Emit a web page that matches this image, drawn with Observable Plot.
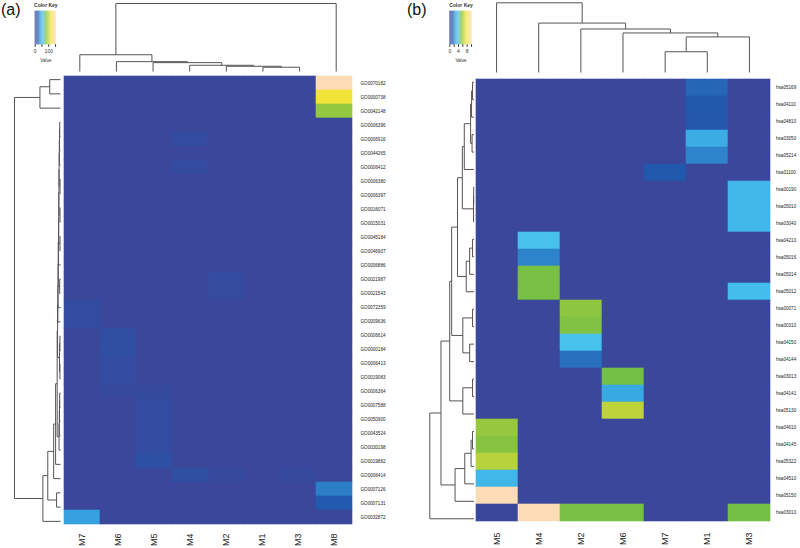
<!DOCTYPE html>
<html><head><meta charset="utf-8">
<script src="https://cdn.jsdelivr.net/npm/d3@7"></script>
<script src="https://cdn.jsdelivr.net/npm/@observablehq/plot@0.6"></script>
<style>
body{margin:0;background:#fff;}
#fig{position:relative;width:800px;height:548px;overflow:hidden;font-family:"Liberation Sans",Arial,sans-serif;}
.plabel{position:absolute;font-size:16px;line-height:1;color:#111;}
</style></head><body><div id="fig"></div>
<script>
// ---------- Panel (a): GO terms ----------
const colsA = ["M7","M6","M5","M4","M2","M1","M3","M8"];
const rowsA = ["GO0070182","GO0000738","GO0042148","GO0006396","GO0006916","GO0044265","GO0006412","GO0006380","GO0006397","GO0016071","GO0015031","GO0045184","GO0046907","GO0006886","GO0021987","GO0021543","GO0072359","GO0009636","GO0006614","GO0000184","GO0006413","GO0019083","GO0006364","GO0007588","GO0050900","GO0043524","GO0030198","GO0019882","GO0006414","GO0007126","GO0007131","GO0032872"];
const valuesA = [
 [0,0,0,0,0,0,0,157],[0,0,0,0,0,0,0,118],[0,0,0,0,0,0,0,91],[0,0,0,0,0,0,0,0],
 [0,0,0,6,0,0,0,0],[0,0,0,0,0,0,0,0],[0,0,0,6,0,0,0,0],[0,0,0,0,0,0,0,0],
 [0,0,0,0,0,0,0,0],[0,0,0,0,0,0,0,0],[0,0,0,0,0,0,0,0],[0,0,0,0,0,0,0,0],
 [0,0,0,0,0,0,0,0],[0,0,0,0,0,0,0,0],[0,0,0,0,6,0,0,0],[0,0,0,0,5,0,0,0],
 [8,0,0,0,0,0,0,0],[7,0,0,0,0,0,0,0],[0,9,0,0,0,0,0,0],[0,10,0,0,0,0,0,0],
 [0,8,0,0,0,0,0,0],[0,6,0,0,0,0,0,0],[0,3,4,0,0,0,0,0],[0,0,7,0,0,0,0,0],
 [0,0,7,0,0,0,0,0],[0,0,7,0,0,0,0,0],[0,0,8,0,0,0,0,0],[0,0,13,0,0,0,0,0],
 [0,0,0,10,4,0,3,0],[0,0,0,0,0,0,0,35],[0,0,0,0,0,0,0,24],[45,0,0,0,0,0,0,0]];
const maxA = 157;
const keyTicksA = [0,50,100,150];
const keyLabelsA = [0,100];
// hclust-style merges: negative = leaf (1-based, display order), positive = earlier merge; third = height
const colMergesA = [[-6,-7,4.3],[-5,1,5.3],[-4,2,6.3],[-3,3,9],[-2,4,10],[-1,5,17],[6,-8,69]];
const rowMergesA = [[-4,-5,0.8],[1,-6,1.0],[2,-7,1.2],[-8,-9,0.5],[3,4,1.4],[-10,-11,0.5],[5,6,1.6],[-12,-13,0.5],[7,8,1.8],[9,-14,2.0],[-15,-16,0.8],[10,11,2.3],[12,-17,2.5],[13,-18,2.7],[-19,-20,0.6],[-21,-22,0.6],[15,16,1.0],[14,17,3.0],[-23,-24,0.8],[19,-25,1.0],[20,-26,1.2],[21,-27,1.5],[18,22,3.4],[23,-28,5.0],[24,-29,7.0],[-30,-31,4.0],[25,26,13],[27,-32,18],[-1,-2,11],[29,-3,21],[30,28,47]];

// ---------- Panel (b): KEGG pathways ----------
const colsB = ["M5","M4","M2","M6","M7","M1","M3"];
const rowsB = ["hsa05169","hsa04110","hsa04810","hsa03050","hsa05214","hsa01100","hsa00190","hsa05010","hsa03040","hsa04210","hsa05016","hsa05014","hsa05012","hsa00071","hsa00310","hsa04150","hsa04144","hsa03013","hsa04141","hsa05130","hsa04610","hsa04145","hsa05322","hsa04510","hsa05150","hsa03010"];
const valuesB = [
 [0,0,0,0,0,1.8,0],[0,0,0,0,0,1.5,0],[0,0,0,0,0,1.4,0],[0,0,0,0,0,3.3,0],
 [0,0,0,0,0,2.4,0],[0,0,0,0,1.5,0,0],[0,0,0,0,0,0,3.7],[0,0,0,0,0,0,3.7],
 [0,0,0,0,0,0,3.7],[0,4.1,0,0,0,0,0],[0,2.4,0,0,0,0,0],[0,5.3,0,0,0,0,0],
 [0,5.3,0,0,0,0,3.9],[0,0,5.8,0,0,0,0],[0,0,5.5,0,0,0,0],[0,0,4.1,0,0,0,0],
 [0,0,2.0,0,0,0,0],[0,0,0,5.2,0,0,0],[0,0,0,3.2,0,0,0],[0,0,0,6.8,0,0,0],
 [6.0,0,0,0,0,0,0],[5.6,0,0,0,0,0,0],[6.7,0,0,0,0,0,0],[3.7,0,0,0,0,0,0],
 [10.3,0,0,0,0,0,0],[0,10.3,5.3,5.3,0,0,5.2]];
const maxB = 10.3;
const keyTicksB = [0,2,4,6,8,10];
const keyLabelsB = [0,4,8];
const colMergesB = [[-5,-6,21],[1,-7,36],[-4,2,40],[-3,3,44],[-2,4,50],[-1,5,70.5]];
const rowMergesB = [[-1,-2,1.5],[1,-3,2.5],[-4,-5,2],[2,3,3.5],[4,-6,10],[-7,-8,0.3],[6,-9,0.5],[5,7,12],[-10,-11,1.5],[9,-12,4.5],[10,-13,8],[8,11,17],[-14,-15,1.5],[-16,-17,4.5],[13,14,11.5],[12,15,23],[-18,-19,1.5],[17,-20,11.5],[16,18,25],[-21,-22,1.5],[20,-23,3],[21,-24,9.5],[22,-25,19.5],[19,23,34],[24,-26,45.5]];

// ---------- colour ramp ----------
const rampStops = [0,0.15,0.3,0.4,0.5,0.62,0.75,1];
const rampColors = ["#3a479a","#2159ad","#38a6e2","#46c3ec","#72be45","#a5cd3b","#f1e337","#fcdcb6"];

const FONT = "Liberation Sans, Arial, sans-serif";
const fig = document.getElementById("fig");
function colorScale(max){ return {type:"linear", domain: rampStops.map(s=>s*max), range: rampColors, interpolate:"rgb", clamp:true}; }
function place(svg, left, top){
  svg.style.position="absolute"; svg.style.left=left+"px"; svg.style.top=top+"px";
  svg.style.maxWidth="none"; svg.style.overflow="visible"; svg.style.background="transparent";
  fig.appendChild(svg);
}
function segments(merges){
  const nodes=[], segs=[];
  const get = r => r<0 ? {pos:-r-1, h:0} : nodes[r-1];
  for(const [a,b,h] of merges){
    const A=get(a), B=get(b);
    segs.push({p1:A.pos,h1:A.h,p2:A.pos,h2:h});
    segs.push({p1:B.pos,h1:B.h,p2:B.pos,h2:h});
    segs.push({p1:A.pos,h1:h,p2:B.pos,h2:h});
    nodes.push({pos:(A.pos+B.pos)/2, h});
  }
  return segs;
}
const baseStyle = {background:"transparent", fontFamily:FONT, overflow:"visible"};

function heatmap(cols, rows, values, max, w, h, mr, fs){
  const cells = rows.flatMap((r,i)=>cols.map((c,j)=>({row:r,col:c,value:values[i][j]})));
  return Plot.plot({
    width:w+mr, height:h+26, marginLeft:0, marginTop:0, marginRight:mr, marginBottom:26,
    x:{domain:cols, padding:0}, y:{domain:rows, padding:0},
    color: colorScale(max), style: baseStyle,
    marks:[
      Plot.cell(cells,{x:"col",y:"row",fill:"value",inset:-0.3}),
      Plot.axisY({anchor:"right",tickSize:0,tickPadding:fs.pad,fontSize:fs.row,label:null,color:"#222"}),
      Plot.axisX({anchor:"bottom",tickSize:0,tickPadding:5,tickRotate:-90,fontSize:9,label:null,color:"#222"})
    ]
  });
}
function colDendro(merges, n, w, h, top, H){
  return Plot.plot({width:w,height:h,marginLeft:0,marginRight:0,marginTop:top,marginBottom:0,
    x:{domain:[-0.5,n-0.5],axis:null}, y:{domain:[0,H],axis:null}, style:baseStyle,
    marks:[Plot.link(segments(merges),{x1:"p1",x2:"p2",y1:"h1",y2:"h2",stroke:"#555",strokeWidth:1})]});
}
function rowDendro(merges, n, w, h, left, H){
  return Plot.plot({width:w,height:h,marginLeft:left,marginRight:0,marginTop:0,marginBottom:0,
    x:{domain:[H,0],axis:null}, y:{domain:[-0.5,n-0.5],reverse:true,axis:null}, style:baseStyle,
    marks:[Plot.link(segments(merges),{x1:"h1",x2:"h2",y1:"p1",y2:"p2",stroke:"#555",strokeWidth:1})]});
}
function colorKey(max, ticks, labels, ml, kw, mr){
  const N=80, step=max/N, steps=d3.range(N).map(i=>i*step);
  return Plot.plot({width:ml+kw+mr,height:66,marginLeft:ml,marginRight:mr,marginTop:10.7,marginBottom:21.7,
    x:{domain:[0,max],axis:null}, color: colorScale(max), style:baseStyle,
    marks:[
      Plot.barX(steps,{x1:d=>d,x2:d=>d+step*1.05,fill:d=>d+step/2}),
      Plot.axisX({ticks:ticks,tickFormat:d=>labels.includes(d)?String(d):"",tickSize:2.5,tickPadding:2,fontSize:5,label:null,color:"#333"}),
      Plot.text(["Color Key"],{text:d=>d,frameAnchor:"top",lineAnchor:"middle",dy:-5.7,fontSize:5,fontWeight:"bold",fill:"#333"}),
      Plot.text(["Value"],{text:d=>d,frameAnchor:"bottom",lineAnchor:"middle",dy:15.7,fontSize:4.5,fill:"#333"})
    ]});
}

// panel (a)
place(heatmap(colsA, rowsA, valuesA, maxA, 293, 456, 50, {row:4.6,pad:6}), 61, 72);
place(colDendro(colMergesA, colsA.length, 293, 71, 3, 69), 61, 0);
place(rowDendro(rowMergesA, rowsA.length, 50, 456, 4, 47), 10, 72);
place(colorKey(maxA, keyTicksA, keyLabelsA, 6.7, 21.3, 8), 28, 0);
// panel (b)
place(heatmap(colsB, rowsB, valuesB, maxB, 295, 454, 30, {row:4.6,pad:5.5}), 475, 73);
place(colDendro(colMergesB, colsB.length, 295, 72, 2.3, 70.5), 475, 0);
place(rowDendro(rowMergesB, rowsB.length, 48.5, 454, 4.3, 45.5), 425, 73);
place(colorKey(maxB, keyTicksB, keyLabelsB, 6.3, 22.4, 8.3), 443, 0);

for (const [t,l] of [["(a)",1],["(b)",407]]){
  const d=document.createElement("div"); d.className="plabel"; d.textContent=t;
  d.style.left=l+"px"; d.style.top="2px"; fig.appendChild(d);
}
</script></body></html>
